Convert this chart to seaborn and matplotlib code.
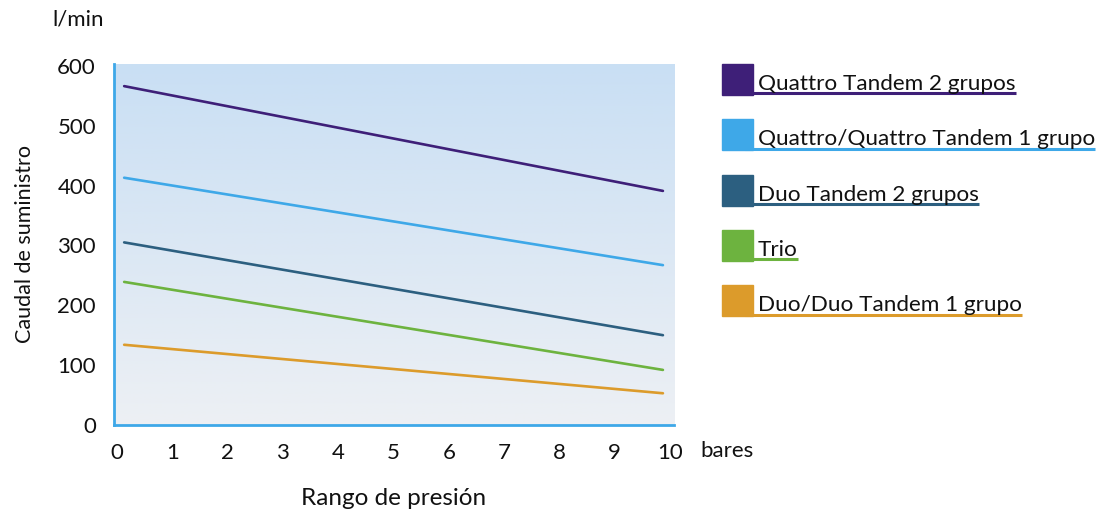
import numpy as np
import pandas as pd
import matplotlib as mpl
mpl.use("Agg")
import matplotlib.pyplot as plt
from matplotlib.colors import LinearSegmentedColormap
import seaborn as sns

# data
series = ['Quattro Tandem 2 grupos', 'Quattro/Quattro Tandem 1 grupo',
          'Duo Tandem 2 grupos', 'Trio', 'Duo/Duo Tandem 1 grupo']
colors = ['#3e1f78', '#3ea8e8', '#2c5f80', '#6db33f', '#dc9b2b']
pressure = [0.13, 9.87]
flow_start = [566, 413, 305, 239, 134]
flow_end = [391, 267, 150, 92, 53]
xticks = list(range(0, 11))
yticks = [0, 100, 200, 300, 400, 500, 600]

sns.set_theme(style='white')
plt.rcParams['font.family'] = ['Lato', 'DejaVu Sans']

rows = []
for name, a, b in zip(series, flow_start, flow_end):
    rows.append({'serie': name, 'presion': pressure[0], 'caudal': a})
    rows.append({'serie': name, 'presion': pressure[1], 'caudal': b})
df = pd.DataFrame(rows)

fig = plt.figure(figsize=(10.97, 5.11), dpi=100)
ax = fig.add_axes([0.1039, 0.1683, 0.5105, 0.7065])

xlim = (-0.054, 10.07)
ylim = (0, 603)
grad = np.linspace(0, 1, 256).reshape(-1, 1)
cmap = LinearSegmentedColormap.from_list('bg', ['#edf0f4', '#c9dff4'])
ax.imshow(grad, cmap=cmap, origin='lower', aspect='auto',
          extent=[xlim[0], xlim[1], ylim[0], ylim[1]], zorder=0)

sns.lineplot(data=df, x='presion', y='caudal', hue='serie', hue_order=series,
             palette=colors, linewidth=1.9, legend=False, ax=ax, zorder=3)

ax.set_xlim(*xlim)
ax.set_ylim(*ylim)
ax.set_xticks(xticks)
ax.set_yticks(yticks)
ax.tick_params(axis='both', length=0, labelsize=16, colors='#111111')
ax.tick_params(axis='x', pad=13)
ax.tick_params(axis='y', pad=13)
for s in ['top', 'right']:
    ax.spines[s].set_visible(False)
for s in ['left', 'bottom']:
    ax.spines[s].set_color('#3ea8e8')
    ax.spines[s].set_linewidth(2)
    ax.spines[s].set_zorder(5)
ax.set_xlabel('Rango de presión', fontsize=17.5, labelpad=18, color='#111111')
ax.set_ylabel('Caudal de suministro', fontsize=15.5, labelpad=16, color='#111111')

fig.text(52 / 1097, 1 - 20 / 511, 'l/min', fontsize=16, va='center', ha='left', color='#111111')
fig.text(700 / 1097, 1 - 451 / 511, 'bares', fontsize=16, va='center', ha='left', color='#111111')

# legend drawn by hand: square + underlined label
W, H = 1097, 511
top0, step, sq = 64, 55.3, 31
texts = []
for i, (name, c) in enumerate(zip(series, colors)):
    top = top0 + i * step
    fig.patches.append(plt.Rectangle((722 / W, 1 - (top + sq) / H), sq / W, sq / H,
                                     transform=fig.transFigure, color=c, zorder=1))
    t = fig.text(758 / W, 1 - (top + sq - 5) / H, name, fontsize=16.2,
                 va='baseline', ha='left', color='#111111')
    texts.append((t, top, c))

fig.canvas.draw()
r = fig.canvas.get_renderer()
for t, top, c in texts:
    bb = t.get_window_extent(renderer=r)
    x1 = bb.x1 / W
    y = 1 - (top + sq - 1.5) / H
    fig.add_artist(plt.Line2D([745 / W, x1], [y, y], transform=fig.transFigure,
                              color=c, linewidth=2.2, solid_capstyle='butt'))

fig.savefig('out.png', dpi=100)
